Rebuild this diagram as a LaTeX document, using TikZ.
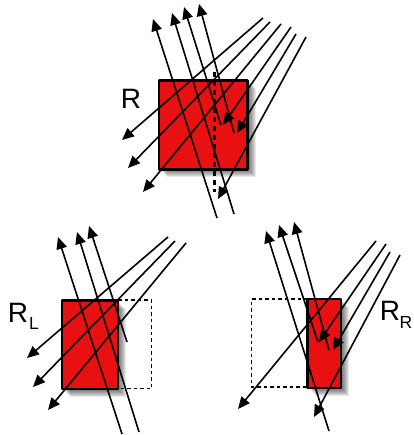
\documentclass[tikz,border=0pt]{standalone}
\usepackage{fontspec}
\setmainfont{Liberation Sans}
\usetikzlibrary{arrows.meta}

\begin{document}
\begin{tikzpicture}[
    x=1pt, y=-1pt,
    % ---- styles -------------------------------------------------
    ray/.style={-{Triangle[length=12pt,width=10.5pt]}, line width=1.6pt, draw=black},
    plate/.style={draw=black, line width=2.6pt, fill=platered, line join=round},
    ghost/.style={draw=black, line width=1.2pt, dash pattern=on 3.5pt off 3pt},
    beam/.style={draw=black, line width=2.6pt, dash pattern=on 5pt off 4pt},
    tag/.style={font=\fontsize{28}{28}\selectfont, inner sep=0pt},
    sub/.style={font=\fontsize{17.5}{18}\selectfont, inner sep=0pt},
]
\definecolor{platered}{RGB}{232,16,16}
\useasboundingbox (0,0) rectangle (413,435);

% =================== shadows ==================================
\foreach \d in {1,...,8} {
    \fill[black, opacity=0.09] (159+\d,80+\d) rectangle (248+\d,169+\d);
    \fill[black, opacity=0.09] (62+\d,300.5+\d) rectangle (118+\d,389+\d);
    \fill[black, opacity=0.09] (307.5+\d,299+\d) rectangle (341+\d,388+\d);
}

% =================== top plate R ==============================
\draw[plate] (159,80.5) rectangle (247.5,169.5);
\foreach \xa/\ya/\xb/\yb in {
    217/218/153/19, 234/214/172/13, 221/125/184/7, 234/133/199/4,
    263/18/122/140, 270/22/128/168, 281/24/143/192,
    291/27/223/125, 296/34/237/133, 306/37/218/199} {
    \draw[ray] (\xa,\ya) -- (\xb,\yb);
}
\draw[beam] (214.5,72) -- (214.5,192);
\node[tag] (labelR) at (131,99) {R};

% =================== left plate RL ============================
\draw[ghost] (118,300) -- (151.5,300) -- (151.5,388.5) -- (118,388.5);
\draw[plate] (62,300.5) rectangle (118,389);
\foreach \xa/\ya/\xb/\yb in {
    122/434/58/237, 139/432/77/232, 127/342/89/226,
    168/237/27/358, 175/241/33/387, 186/243/48/410} {
    \draw[ray] (\xa,\ya) -- (\xb,\yb);
}
\node[tag] (labelRL) at (18,313) {R};
\node[sub] (labelRLsub) at (34,323) {L};

% =================== right plate RR ===========================
\draw[ghost] (307.5,299) -- (251.5,299) -- (251.5,387) -- (307.5,387);
\draw[plate] (307.5,299) rectangle (341,388);
\foreach \xa/\ya/\xb/\yb in {
    329/431/266/231, 318/342/279/225, 329/350/294/222,
    376/241/238/409, 386/244/319/342, 390/252/333/350, 400/255/314/417} {
    \draw[ray] (\xa,\ya) -- (\xb,\yb);
}
\node[tag] (labelRR) at (390,310.5) {R};
\node[sub] (labelRRsub) at (406,322.5) {R};

\end{tikzpicture}
\end{document}
